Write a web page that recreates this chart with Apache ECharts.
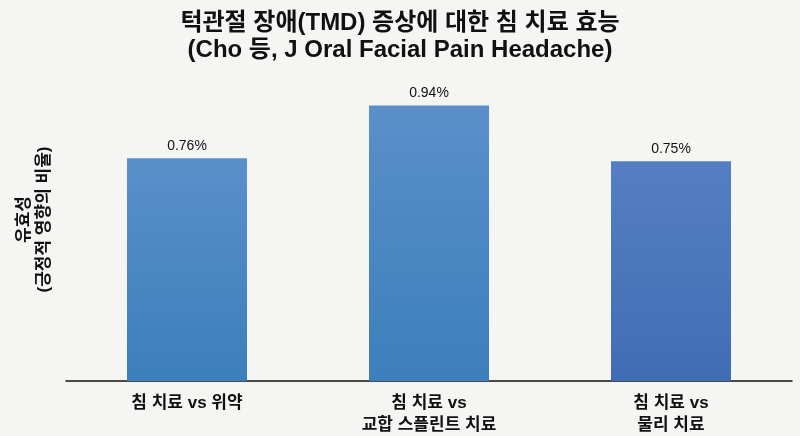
<!DOCTYPE html>
<html>
<head>
<meta charset="utf-8">
<script src="https://cdn.jsdelivr.net/npm/echarts@6/dist/echarts.min.js"></script>
<style>
  html, body { margin: 0; padding: 0; background: #f5f5f3; }
  #main { width: 800px; height: 436px; }
</style>
</head>
<body>
<div id="main"></div>
<script>
// 카테고리와 값
const categories = ["침 치료 vs 위약", "침 치료 vs\n교합 스플린트 치료", "침 치료 vs\n물리 치료"];
const values = [0.76, 0.94, 0.75];
const barColors = [
  ["#5b8fca", "#3b7fbc"],
  ["#5b8fca", "#3b7fbc"],
  ["#557fc2", "#3f6db5"],
];

const fontFamily = '"Liberation Sans", "Noto Sans CJK KR", sans-serif';
const chart = echarts.init(document.getElementById("main"));

chart.setOption({
  backgroundColor: "#f5f5f3",
  textStyle: { fontFamily: fontFamily },
  title: {
    text: "턱관절 장애(TMD) 증상에 대한 침 치료 효능\n(Cho 등, J Oral Facial Pain Headache)",
    left: "center",
    top: 5,
    textStyle: {
      fontSize: 24,
      fontWeight: "bold",
      color: "#111",
      lineHeight: 27,
      fontFamily: fontFamily,
    },
  },
  grid: { left: 66, right: 8, top: 88, bottom: 48 },
  xAxis: {
    type: "category",
    data: categories,
    axisLine: { lineStyle: { color: "#111", width: 1.5 } },
    axisTick: { show: false },
    axisLabel: {
      color: "#111",
      fontSize: 17,
      fontWeight: "bold",
      lineHeight: 22,
      margin: 11,
      interval: 0,
    },
  },
  yAxis: {
    type: "value",
    min: 0,
    max: 1,
    show: true,
    name: "유효성\n(긍정적 영향의 비율)",
    nameLocation: "middle",
    nameGap: 12,
    nameRotate: 90,
    nameTextStyle: {
      fontSize: 17,
      fontWeight: "bold",
      color: "#111",
      lineHeight: 20,
      padding: [0, 0, 0, 30],
    },
    axisLine: { show: false },
    axisTick: { show: false },
    axisLabel: { show: false },
    splitLine: { show: false },
  },
  series: [
    {
      type: "bar",
      barWidth: 120,
      data: values.map(function (v, i) {
        return {
          value: v,
          itemStyle: {
            color: new echarts.graphic.LinearGradient(0, 0, 0, 1, [
              { offset: 0, color: barColors[i][0] },
              { offset: 1, color: barColors[i][1] },
            ]),
          },
        };
      }),
      label: {
        show: true,
        position: "top",
        distance: 5,
        color: "#111",
        fontSize: 14,
        formatter: function (p) {
          return p.value.toFixed(2) + "%";
        },
      },
    },
  ],
});
</script>
</body>
</html>
